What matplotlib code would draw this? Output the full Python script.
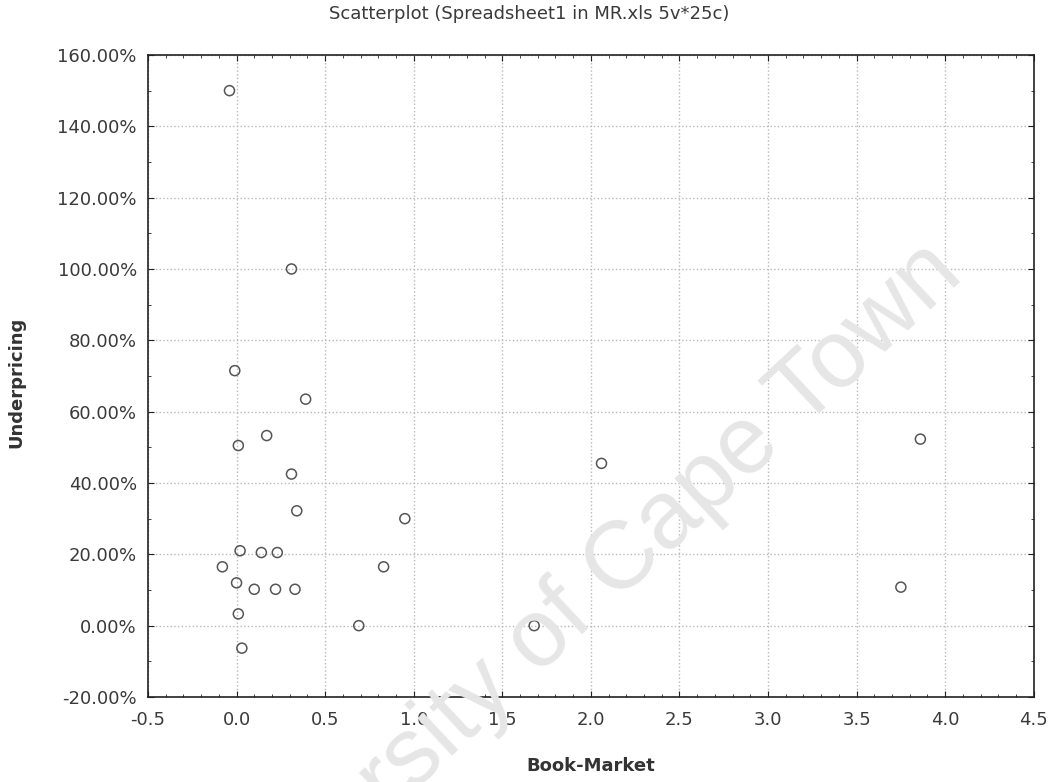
import matplotlib
matplotlib.use("Agg")
import matplotlib.pyplot as plt
from matplotlib.ticker import MultipleLocator, FuncFormatter

# Data (Book-Market vs Underpricing %)
book_market = [-0.04, 0.31, -0.01, 0.39, 0.01, 0.17, 0.31, 0.34, 0.02, 0.14,
               0.23, -0.08, 0.00, 0.10, 0.22, 0.33, 0.01, 0.03, 0.69, 0.83,
               0.95, 1.68, 2.06, 3.86, 3.75]
underpricing = [150.0, 100.0, 71.5, 63.5, 50.5, 53.3, 42.5, 32.2, 21.0, 20.5,
                20.5, 16.5, 12.0, 10.2, 10.2, 10.2, 3.3, -6.3, 0.0, 16.5,
                30.0, 0.0, 45.5, 52.3, 10.8]

x_ticks = [-0.5, 0.0, 0.5, 1.0, 1.5, 2.0, 2.5, 3.0, 3.5, 4.0, 4.5]
y_ticks = [-20, 0, 20, 40, 60, 80, 100, 120, 140, 160]

plt.rcParams['font.family'] = ['DejaVu Sans']

fig = plt.figure(figsize=(10.57, 7.82), dpi=100)
fig.patch.set_facecolor('white')
ax = fig.add_axes([0.140, 0.1087, 0.838, 0.821])

# Watermark
fig.text(0.540, 0.218, "University of Cape Town", rotation=43, rotation_mode='anchor',
         ha='center', va='center', fontsize=69, color='#e6e6e6', zorder=0,
         family=['Liberation Sans', 'DejaVu Sans'])
ax.set_facecolor('none')

ax.scatter(book_market, underpricing, s=52, facecolors='none', edgecolors='#555555',
           linewidths=1.1, zorder=3)

ax.set_xlim(-0.5, 4.5)
ax.set_ylim(-20, 160)
ax.set_xticks(x_ticks)
ax.set_yticks(y_ticks)
ax.xaxis.set_minor_locator(MultipleLocator(0.1))
ax.yaxis.set_minor_locator(MultipleLocator(10))
ax.xaxis.set_major_formatter(FuncFormatter(lambda v, p: f"{v:.1f}"))
ax.yaxis.set_major_formatter(FuncFormatter(lambda v, p: f"{v:.2f}%"))

ax.grid(True, which='major', linestyle=':', color='#b8b8b8', linewidth=1.0)
ax.tick_params(which='both', direction='in', top=True, right=True, colors='#222222',
               labelcolor='#3a3a3a', labelsize=13)
ax.tick_params(which='major', length=4)
ax.tick_params(which='minor', length=2)
ax.tick_params(axis='x', pad=10)
ax.tick_params(axis='y', pad=8)
for s in ax.spines.values():
    s.set_color('#222222')
    s.set_linewidth(1.2)

fig.text(0.501, 0.982, "Scatterplot (Spreadsheet1 in MR.xls 5v*25c)", ha='center', va='center',
         fontsize=13, color='#3a3a3a')
ax.set_xlabel("Book-Market", fontsize=13, fontweight='bold', color='#333333')
ax.xaxis.set_label_coords(0.5, -0.094)
ax.set_ylabel("Underpricing", fontsize=13, fontweight='bold', color='#333333')
ax.yaxis.set_label_coords(-0.138, 0.49)

fig.savefig("out.png", dpi=100)
